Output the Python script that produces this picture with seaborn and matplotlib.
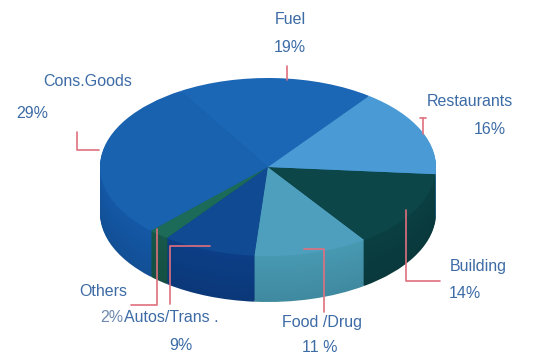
import numpy as np
import matplotlib
matplotlib.use("Agg")
import matplotlib.pyplot as plt
import matplotlib.colors as mcolors
from matplotlib.transforms import Affine2D
import seaborn as sns

# slice data, counterclockwise from the Fuel/Restaurants boundary
sectors = ["Fuel", "Cons.Goods", "Others", "Autos/Trans .", "Food /Drug", "Building", "Restaurants"]
shares = [19, 29, 2, 9, 11, 14, 16]
pct_labels = ["19%", "29%", "2%", "9%", "11 %", "14%", "16%"]

top_colors = ["#1b67b6", "#1862b0", "#1c6a58", "#0f4a93", "#4d9fbd", "#0c4649", "#4a9bd5"]
side_colors = ["#155aa2", "#1458a6", "#17584a", "#0c3e86", "#4799b2", "#0a3f42", "#3f8ac4"]

sns.set_style("white")
plt.rcParams["font.family"] = ["Liberation Sans", "DejaVu Sans"]

W, H = 536, 356
fig = plt.figure(figsize=(W / 100, H / 100), dpi=100)
ax = fig.add_axes([0, 0, 1, 1])

cx, cy = 268, H - 167   # centre of top face (pixels, y up)
a, b = 168, 89          # ellipse half-axes
depth = 46


def draw_pie(colors, yoff):
    wedges, _ = ax.pie(shares, colors=colors, startangle=53, counterclock=True,
                       wedgeprops=dict(linewidth=0))
    tr = Affine2D().scale(a, b).translate(cx, cy - yoff) + ax.transData
    for w in wedges:
        w.set_transform(tr)


# side walls: stack of shifted pies, slightly darker toward the bottom
for off in range(depth, 0, -1):
    f = 0.9 + 0.1 * (1 - off / depth)
    cols = [tuple(np.array(mcolors.to_rgb(c)) * f) for c in side_colors]
    draw_pie(cols, off)
draw_pie(top_colors, 0)

ax.set_aspect("auto")
ax.set_xlim(0, W)
ax.set_ylim(0, H)
ax.axis("off")

txt = dict(color="#3c6ba6", fontsize=11.5, ha="center", va="center")
line = dict(color="#e0707e", linewidth=1.2)


def Y(y):
    return H - y


# labels and leader lines (pixel positions)
ax.text(290, Y(20), sectors[0], **txt)
ax.text(290, Y(47), pct_labels[0], **txt)
ax.plot([287, 287], [Y(66), Y(80)], **line)

ax.text(88, Y(82), sectors[1], **txt)
ax.text(32, Y(113), pct_labels[1], **txt)
ax.plot([77, 77, 99], [Y(132), Y(150), Y(150)], **line)

ax.text(470, Y(102), sectors[6], **txt)
ax.text(490, Y(130), pct_labels[6], **txt)
ax.plot([423, 423], [Y(118), Y(134)], **line)
ax.plot([420, 426], [Y(118), Y(118)], **line)

ax.text(478, Y(266), sectors[5], **txt)
ax.text(465, Y(294), pct_labels[5], **txt)
ax.plot([406, 406, 440], [Y(210), Y(281), Y(281)], **line)

ax.text(322, Y(322), sectors[4], **txt)
ax.text(320, Y(348), pct_labels[4], **txt)
ax.plot([304, 324, 324], [Y(249), Y(249), Y(312)], **line)

ax.text(103, Y(292), sectors[2], **txt)
ax.text(123, Y(318), pct_labels[2], **{**txt, "ha": "right", "color": "#6f89ad"})
ax.plot([157, 157, 131], [Y(229), Y(305), Y(305)], **line)

ax.text(124, Y(318), sectors[3], **{**txt, "ha": "left"})
ax.text(181, Y(345), pct_labels[3], **txt)
ax.plot([210, 170, 170], [Y(246), Y(246), Y(304)], **line)

fig.savefig("out.png", dpi=100, facecolor="white")
